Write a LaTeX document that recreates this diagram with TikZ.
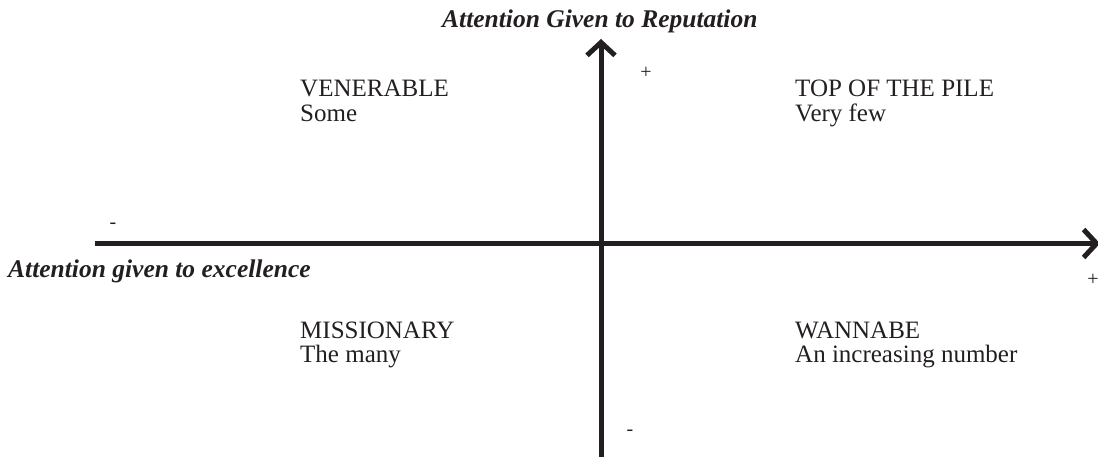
\documentclass[tikz,border=0pt]{standalone}
\usepackage{fontspec}
\setmainfont{Liberation Serif}
\usetikzlibrary{arrows.meta}
\definecolor{ink}{RGB}{35,31,32}
\begin{document}
\begin{tikzpicture}[x=1pt,y=-1pt,
  axis/.style={draw=ink,line width=5pt,-{Straight Barb[length=13pt,width=28pt,line width=5pt]}},
  quad/.style={anchor=base west,inner sep=0pt,text=ink,font=\fontsize{25}{27}\selectfont,align=left},
  axlabel/.style={anchor=base west,inner sep=0pt,text=ink,font=\fontsize{25.5}{27}\selectfont\bfseries\itshape},
  sign/.style={inner sep=0pt,text=ink,font=\fontsize{20}{20}\selectfont}]
\useasboundingbox (0,0) rectangle (1098,457);
\coordinate (xl) at (95,243.5);
\coordinate (xr) at (1100,243.5);
\coordinate (yb) at (601,462);
\coordinate (yt) at (601,39);
\draw[axis] (xl) -- (xr);
\draw[axis] (yb) -- (yt);
\node[axlabel] (ytitle) at (442,28) {Attention Given to Reputation};
\node[axlabel] (xtitle) at (8,277) {Attention given to excellence};
\node[quad] (ven) at (300,97) {VENERABLE};
\node[quad] (vens) at (300,122) {Some};
\node[quad] (top) at (795,97) {TOP OF THE PILE};
\node[quad] (tops) at (795,122) {Very few};
\node[quad] (mis) at (300,338) {MISSIONARY};
\node[quad] (miss) at (300,362) {The many};
\node[quad] (wan) at (795,338) {WANNABE};
\node[quad] (wans) at (795,362) {An increasing number};
\node[sign] (ptop) at (646,73) {+};
\node[sign] (mleft) at (113,226) {-};
\node[sign] (pright) at (1093,280) {+};
\node[sign] (mbot) at (630,433) {-};
\end{tikzpicture}
\end{document}
